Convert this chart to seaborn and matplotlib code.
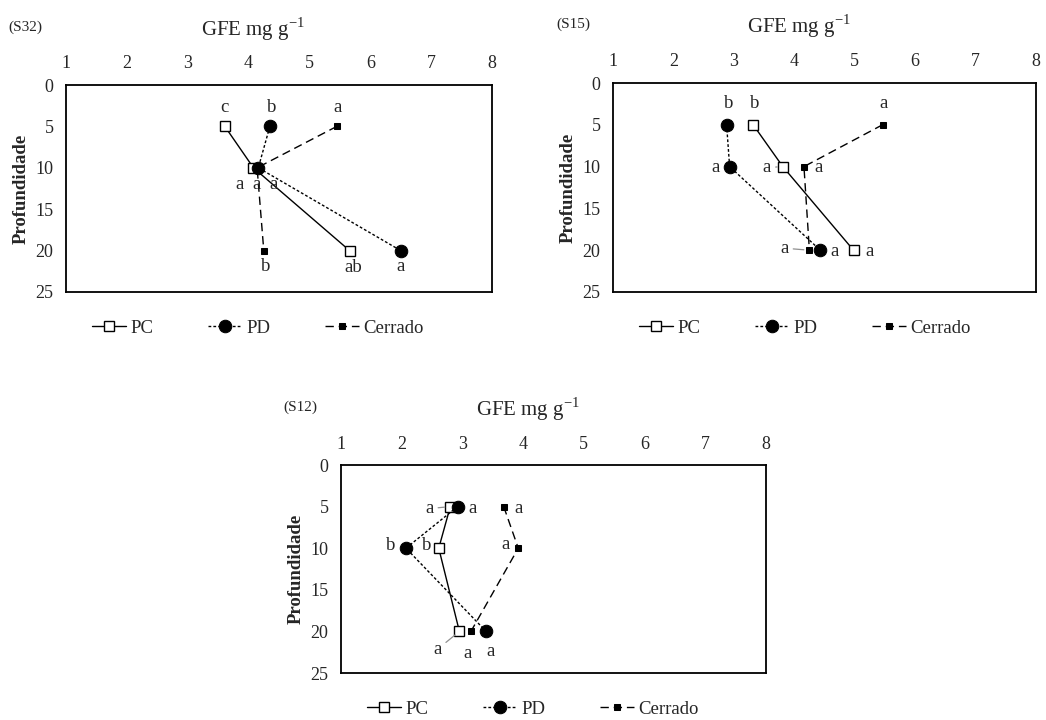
import pandas as pd
import seaborn as sns
import matplotlib
matplotlib.use('Agg')
import matplotlib.pyplot as plt

# profundidade (cm) e GFE (mg g-1)
prof = [5, 10, 20]
series = ['PC', 'PD', 'Cerrado']

s32_pc = [3.61, 4.08, 5.66]
s32_pd = [4.35, 4.16, 6.50]
s32_cer = [5.45, 4.14, 4.25]
s32_let_pc = ['c', 'a', 'ab']
s32_let_pd = ['b', 'a', 'a']
s32_let_cer = ['a', 'a', 'b']

s15_pc = [3.32, 3.81, 4.98]
s15_pd = [2.88, 2.93, 4.43]
s15_cer = [5.46, 4.16, 4.25]
s15_let_pc = ['b', 'a', 'a']
s15_let_pd = ['b', 'a', 'a']
s15_let_cer = ['a', 'a', 'a']

s12_pc = [2.80, 2.61, 2.95]
s12_pd = [2.92, 2.07, 3.39]
s12_cer = [3.68, 3.92, 3.14]
s12_let_pc = ['a', 'b', 'a']
s12_let_pd = ['a', 'b', 'a']
s12_let_cer = ['a', 'a', 'a']

x_ticks = [1, 2, 3, 4, 5, 6, 7, 8]
y_ticks = [0, 5, 10, 15, 20, 25]

# posicao das letras (px em relacao ao ponto: dx, dy, linha guia)
off32 = {'PC': [(0, -19, 0), (-14, 17, 0), (4, 17, 0)],
         'PD': [(2, -19, 0), (-2, 17, 0), (0, 16, 0)],
         'Cerrado': [(1, -19, 0), (16, 17, 0), (2, 16, 0)]}
off15 = {'PC': [(1, -21, 0), (-16, 1, 1), (16, 1, 0)],
         'PD': [(2, -21, 0), (-14, 1, 0), (14, 1, 0)],
         'Cerrado': [(1, -21, 0), (15, 1, 0), (-25, -2, 1)]}
off12 = {'PC': [(-21, 2, 1), (-12, -3, 0), (-22, 18, 1)],
         'PD': [(15, 2, 0), (-15, -3, 0), (4, 20, 0)],
         'Cerrado': [(15, 2, 0), (-13, -4, 0), (-3, 22, 0)]}

estilo = {'PC': dict(linestyle='-', marker='s', markersize=7, markerfacecolor='white',
                     markeredgecolor='black', markeredgewidth=1.0),
          'PD': dict(linestyle=(0, (2, 1.5)), marker='o', markersize=9, markerfacecolor='black',
                     markeredgecolor='black'),
          'Cerrado': dict(linestyle=(0, (6, 3.5)), marker='s', markersize=5, markerfacecolor='black',
                          markeredgecolor='black')}

paineis = [
    ('(S32)', [s32_pc, s32_pd, s32_cer], [s32_let_pc, s32_let_pd, s32_let_cer], off32, [66, 85, 426, 207]),
    ('(S15)', [s15_pc, s15_pd, s15_cer], [s15_let_pc, s15_let_pd, s15_let_cer], off15, [613, 83, 423, 209]),
    ('(S12)', [s12_pc, s12_pd, s12_cer], [s12_let_pc, s12_let_pd, s12_let_cer], off12, [341, 465, 425, 208]),
]

sns.set_style('white')
plt.rcParams['font.family'] = ['Liberation Serif', 'DejaVu Serif']
plt.rcParams['mathtext.fontset'] = 'custom'
plt.rcParams['mathtext.rm'] = 'Liberation Serif'

W, H = 1046, 720
fig = plt.figure(figsize=(W / 100, H / 100), dpi=100)

for nome, vals, letras, offs, box in paineis:
    l, t, w, h = box
    ax = fig.add_axes([l / W, 1 - (t + h) / H, w / W, h / H])
    df = pd.DataFrame({'GFE': sum(vals, []),
                       'prof': prof * 3,
                       'trat': [s for s in series for _ in prof]})
    handles = []
    for s in series:
        sub = df[df['trat'] == s]
        sns.lineplot(data=sub, x='GFE', y='prof', sort=False, estimator=None,
                     color='black', linewidth=1.0, ax=ax, **estilo[s])
        handles.append(ax.lines[-1])
    for s, lets in zip(series, letras):
        sub = df[df['trat'] == s]
        for (xv, yv), let, (dx, dy, guia) in zip(zip(sub['GFE'], sub['prof']), lets, offs[s]):
            ap = dict(arrowstyle='-', color='#909090', lw=0.9, shrinkA=1, shrinkB=4) if guia else None
            ax.annotate(let, xy=(xv, yv), xytext=(dx / 1.389, -dy / 1.389),
                        textcoords='offset points', ha='center', va='center',
                        fontsize=13.5, arrowprops=ap)

    ax.set_xlim(1, 8)
    ax.set_ylim(25, 0)
    ax.set_xticks(x_ticks)
    ax.set_yticks(y_ticks)
    ax.xaxis.tick_top()
    ax.xaxis.set_label_position('top')
    ax.set_xlabel('GFE mg g$^{\\mathregular{-1}}$', fontsize=15, va='center')
    ax.xaxis.set_label_coords(0.44, 1.27)
    ax.set_ylabel('Profundidade', fontsize=13.5, fontweight='bold', labelpad=4)
    ax.tick_params(length=0, labelsize=13, pad=9)
    for sp in ax.spines.values():
        sp.set_visible(True)
        sp.set_color('black')
        sp.set_linewidth(1.3)
    ax.text(-0.135, 1.28, nome, transform=ax.transAxes, fontsize=11, ha='left', va='center')
    ax.legend(handles, series, loc='center left', bbox_to_anchor=(0.062, -0.174),
              ncol=3, frameon=False, handlelength=1.8, columnspacing=2.9,
              handletextpad=0.25, fontsize=13.5, borderaxespad=0, borderpad=0)

fig.savefig('out.png', dpi=100, facecolor='white')
